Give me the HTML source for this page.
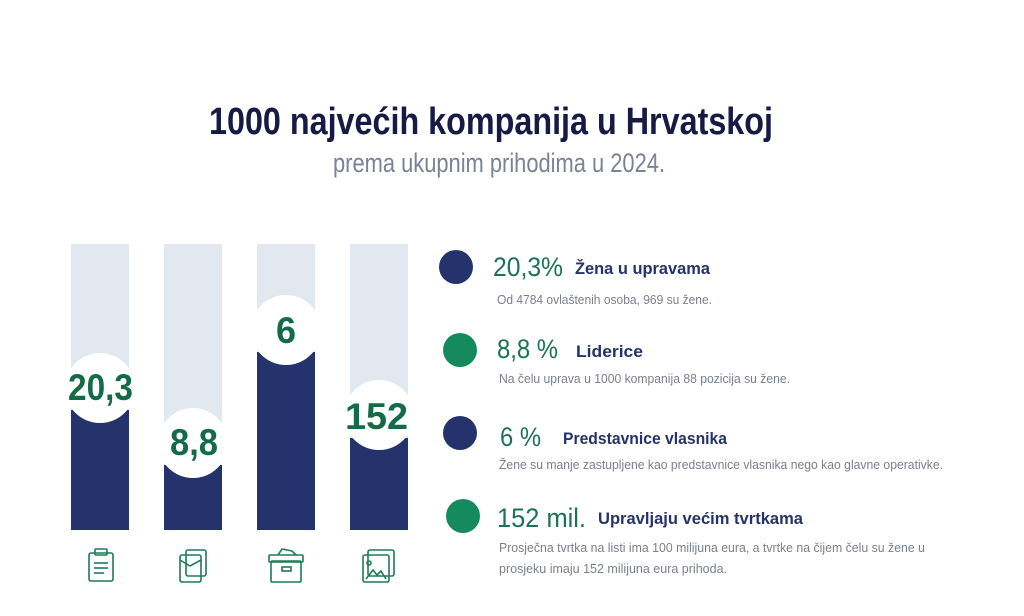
<!DOCTYPE html>
<html><head><meta charset="utf-8"><style>
html,body{margin:0;padding:0;background:#fff;}
svg{display:block}
</style></head><body>
<svg width="1024" height="616" viewBox="0 0 1024 616" xmlns="http://www.w3.org/2000/svg" font-family="Liberation Sans, DejaVu Sans, sans-serif">
<rect width="1024" height="616" fill="#fff"/>
<text x="209" y="134" font-size="38" font-weight="bold" fill="#161a45" textLength="564" lengthAdjust="spacingAndGlyphs">1000 najvećih kompanija u Hrvatskoj</text>
<text x="333" y="172" font-size="27" fill="#7c8196" textLength="332" lengthAdjust="spacingAndGlyphs">prema ukupnim prihodima u 2024.</text>

<g fill="#e1e8f0">
<rect x="71" y="244" width="58" height="286"/>
<rect x="164" y="244" width="58" height="286"/>
<rect x="257" y="244" width="58" height="286"/>
<rect x="350" y="244" width="58" height="286"/>
</g>
<g fill="#24336b">
<rect x="71" y="410" width="58" height="120"/>
<rect x="164" y="465" width="58" height="65"/>
<rect x="257" y="352" width="58" height="178"/>
<rect x="350" y="438" width="58" height="92"/>
</g>
<g fill="#fff">
<circle cx="100" cy="388" r="35"/>
<circle cx="193" cy="443" r="35"/>
<circle cx="286" cy="330" r="35"/>
<circle cx="379" cy="415" r="35"/>
</g>
<g fill="#146b48" font-weight="bold" font-size="37">
<text x="68" y="400" textLength="65" lengthAdjust="spacingAndGlyphs">20,3</text>
<text x="170" y="455" textLength="48" lengthAdjust="spacingAndGlyphs">8,8</text>
<text x="276" y="343" textLength="20" lengthAdjust="spacingAndGlyphs">6</text>
<text x="345" y="429" textLength="63" lengthAdjust="spacingAndGlyphs">152</text>
</g>

<g fill="none" stroke="#1f7a58" stroke-width="1.6">
<rect x="89" y="553" width="24" height="28" rx="2"/>
<rect x="95" y="549" width="12" height="6" rx="1"/>
<line x1="94" y1="563" x2="108" y2="563"/><line x1="94" y1="568" x2="108" y2="568"/><line x1="94" y1="573" x2="104" y2="573"/>
<rect x="186" y="550" width="20" height="26" rx="2"/>
<rect x="180" y="555" width="21" height="27" rx="2"/>
<path d="M180 560 L190 566 L201 560"/>
<rect x="271" y="561" width="30" height="21" rx="1"/>
<rect x="269" y="555" width="34" height="7" rx="1"/>
<path d="M278 555 L282 549 L292 551 L296 555"/>
<rect x="282" y="567" width="9" height="4"/>
<rect x="368" y="550" width="26" height="26" rx="2"/>
<rect x="363" y="555" width="26" height="27" rx="2"/>
<circle cx="369" cy="563" r="2"/>
<path d="M366 579 L373 570 L377 575 L381 571 L386 579"/>
</g>

<circle cx="456" cy="267" r="17" fill="#24336b"/>
<circle cx="460" cy="350" r="17" fill="#158a5f"/>
<circle cx="460" cy="433" r="17" fill="#24336b"/>
<circle cx="463" cy="516" r="17" fill="#158a5f"/>

<g fill="#1a7352" font-size="27">
<text x="493" y="276" textLength="70" lengthAdjust="spacingAndGlyphs">20,3%</text>
<text x="497" y="358" textLength="61" lengthAdjust="spacingAndGlyphs">8,8 %</text>
<text x="500" y="446" textLength="41" lengthAdjust="spacingAndGlyphs">6 %</text>
<text x="497" y="527" textLength="89" lengthAdjust="spacingAndGlyphs">152 mil.</text>
</g>
<g fill="#24336b" font-size="17" font-weight="bold">
<text x="575" y="274" textLength="135" lengthAdjust="spacingAndGlyphs">Žena u upravama</text>
<text x="576" y="357" textLength="67" lengthAdjust="spacingAndGlyphs">Liderice</text>
<text x="563" y="444" textLength="164" lengthAdjust="spacingAndGlyphs">Predstavnice vlasnika</text>
<text x="598" y="524" textLength="205" lengthAdjust="spacingAndGlyphs">Upravljaju većim tvrtkama</text>
</g>
<g fill="#7a7f8c" font-size="12.5">
<text x="497" y="304" textLength="215" lengthAdjust="spacingAndGlyphs">Od 4784 ovlaštenih osoba, 969 su žene.</text>
<text x="499" y="383" textLength="291" lengthAdjust="spacingAndGlyphs">Na čelu uprava u 1000 kompanija 88 pozicija su žene.</text>
<text x="499" y="469" textLength="444" lengthAdjust="spacingAndGlyphs">Žene su manje zastupljene kao predstavnice vlasnika nego kao glavne operativke.</text>
<text x="499" y="552" textLength="426" lengthAdjust="spacingAndGlyphs">Prosječna tvrtka na listi ima 100 milijuna eura, a tvrtke na čijem čelu su žene u</text>
<text x="499" y="573" textLength="228" lengthAdjust="spacingAndGlyphs">prosjeku imaju 152 milijuna eura prihoda.</text>
</g>
</svg>
</body></html>
